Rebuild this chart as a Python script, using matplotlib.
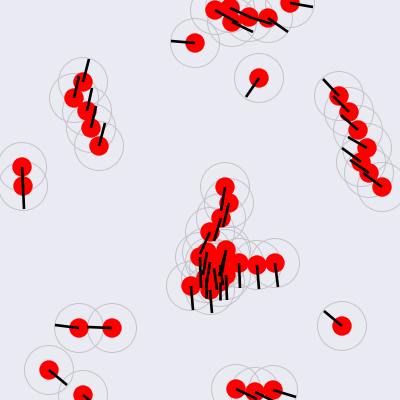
import matplotlib
matplotlib.use("Agg")
import matplotlib.pyplot as plt
from matplotlib.patches import Circle

# agent positions (pixels) and heading vectors
pos_x = [215, 230, 232, 249, 268, 290, 195, 259,
         339, 349, 358, 367, 361, 369, 382,
         83, 74, 87, 91, 99, 22, 23,
         79, 112, 49, 83,
         342, 236, 255, 273,
         225, 229, 221, 210, 226, 239, 257, 275, 191, 210,
         200, 207, 225, 214, 220, 226, 206, 210, 220]
pos_y = [10, 8, 22, 17, 18, 3, 43, 78,
         96, 112, 130, 148, 162, 173, 187,
         82, 98, 111, 128, 146, 167, 186,
         328, 328, 370, 395,
         326, 389, 392, 390,
         187, 203, 218, 232, 250, 263, 265, 263, 286, 290,
         257, 252, 254, 268, 265, 275, 278, 262, 282]
head_x = [23, 20, 21, 23, 20, 23, -24, -13,
          -16, -16, -17, -19, -19, -19, -19,
          6, 5, 5, 5, 6, 1, 1,
          -24, -25, 18, 18,
          -18, 21, 20, 23,
          -4, -6, -7, -10, -4, 1, 2, 3, 2, 2,
          1, -4, -6, 3, 3, 1, 0, -4, 0]
head_y = [13, 9, 10, 7, 14, 4, -2, 19,
          -17, -16, -15, -11, -14, -13, -14,
          -23, -22, -23, -22, -23, 20, 23,
          -3, -1, 15, 15,
          -15, 10, 10, 7,
          24, 24, 23, 22, 23, 25, 24, 24, 24, 23,
          31, 23, 22, 22, 20, 25, 20, 26, 18]

BODY_R = 9.7
VIEW_R = 24.5

fig = plt.figure(figsize=(4, 4), dpi=100)
ax = fig.add_axes([0, 0, 1, 1])
ax.set_facecolor("#eaeaf2")
fig.patch.set_facecolor("#eaeaf2")
ax.set_xlim(0, 400)
ax.set_ylim(400, 0)
ax.set_aspect("equal")
ax.axis("off")

for x, y in zip(pos_x, pos_y):
    ax.add_patch(Circle((x, y), VIEW_R, fill=False, edgecolor="#c4c4c8",
                        linewidth=0.7, zorder=1))
for x, y in zip(pos_x, pos_y):
    ax.add_patch(Circle((x, y), BODY_R, facecolor="#ff0000", edgecolor="none",
                        zorder=2))
for x, y, hx, hy in zip(pos_x, pos_y, head_x, head_y):
    ax.plot([x, x + hx], [y, y + hy], color="black", linewidth=1.9,
            solid_capstyle="butt", zorder=3)

fig.savefig("out.png", dpi=100, facecolor=fig.get_facecolor())
